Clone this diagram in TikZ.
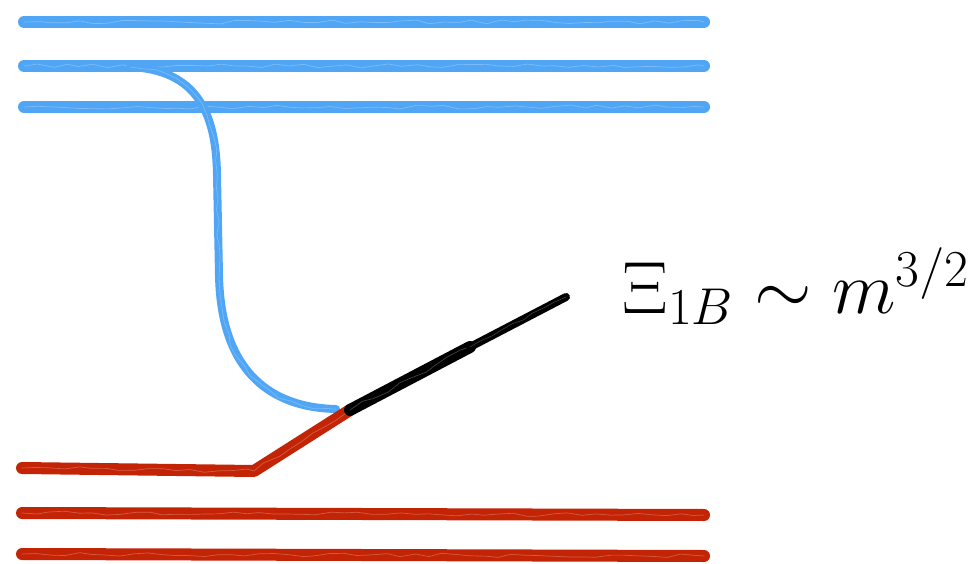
\RequirePackage{fix-cm}
\documentclass[tikz,border=0pt]{standalone}
\usetikzlibrary{decorations.pathmorphing}
\definecolor{skyblue}{RGB}{80,166,245}
\definecolor{brickred}{RGB}{196,36,6}
\tikzset{
    brush/.style={draw=#1, line width=12pt, line cap=round, line join=round,
        postaction={draw=#1, line width=2.5pt, opacity=0.7, decorate,
            decoration={random steps, segment length=9pt, amplitude=3pt}},
        postaction={draw=white, line width=0.7pt, opacity=0.25, decorate,
            decoration={random steps, segment length=14pt, amplitude=2pt}}},
    thinbrush/.style={draw=#1, line width=8pt, line cap=round, line join=round,
        postaction={draw=#1, line width=1.8pt, opacity=0.7, decorate,
            decoration={random steps, segment length=8pt, amplitude=2pt}},
        postaction={draw=white, line width=0.6pt, opacity=0.25, decorate,
            decoration={random steps, segment length=12pt, amplitude=1.5pt}}}
}

\begin{document}
\begin{tikzpicture}[x=1pt, y=-1pt]
\useasboundingbox (0,0) rectangle (977,564);
% levels
\coordinate (b1l) at (24,22);  \coordinate (b1r) at (704,22);
\coordinate (b2l) at (24,66);  \coordinate (b2r) at (704,66);
\coordinate (b3l) at (24,107); \coordinate (b3r) at (704,107);
\coordinate (r1l) at (22,468); \coordinate (kink) at (254,471);
\coordinate (r2l) at (22,513); \coordinate (r2r) at (704,515);
\coordinate (r3l) at (22,554); \coordinate (r3r) at (704,556);
\coordinate (meet) at (350,410);
\coordinate (mid) at (470,347);
\coordinate (tip) at (566,297);
\coordinate (start) at (130,67);
% blue flow
\draw[brush=skyblue] (b1l) -- (b1r);
\draw[brush=skyblue] (b2l) -- (b2r);
\draw[brush=skyblue] (b3l) -- (b3r);
\draw[thinbrush=skyblue] (start) .. controls (195,70) and (216,110) .. (217,175)
    -- (219,275) .. controls (221,385) and (285,408) .. (336,409);
% red flow
\draw[brush=brickred] (r1l) -- (kink) -- (meet);
\draw[brush=brickred] (r2l) -- (r2r);
\draw[brush=brickred] (r3l) -- (r3r);
% black branch, thinning out
\draw[brush=black] (meet) -- (mid);
\draw[thinbrush=black] (mid) -- (tip);
\node[anchor=base west, font=\fontsize{74}{80}\selectfont] (label) at (619,313)
    {$\Xi_{1B}\sim m^{3/2}$};
\end{tikzpicture}
\end{document}
